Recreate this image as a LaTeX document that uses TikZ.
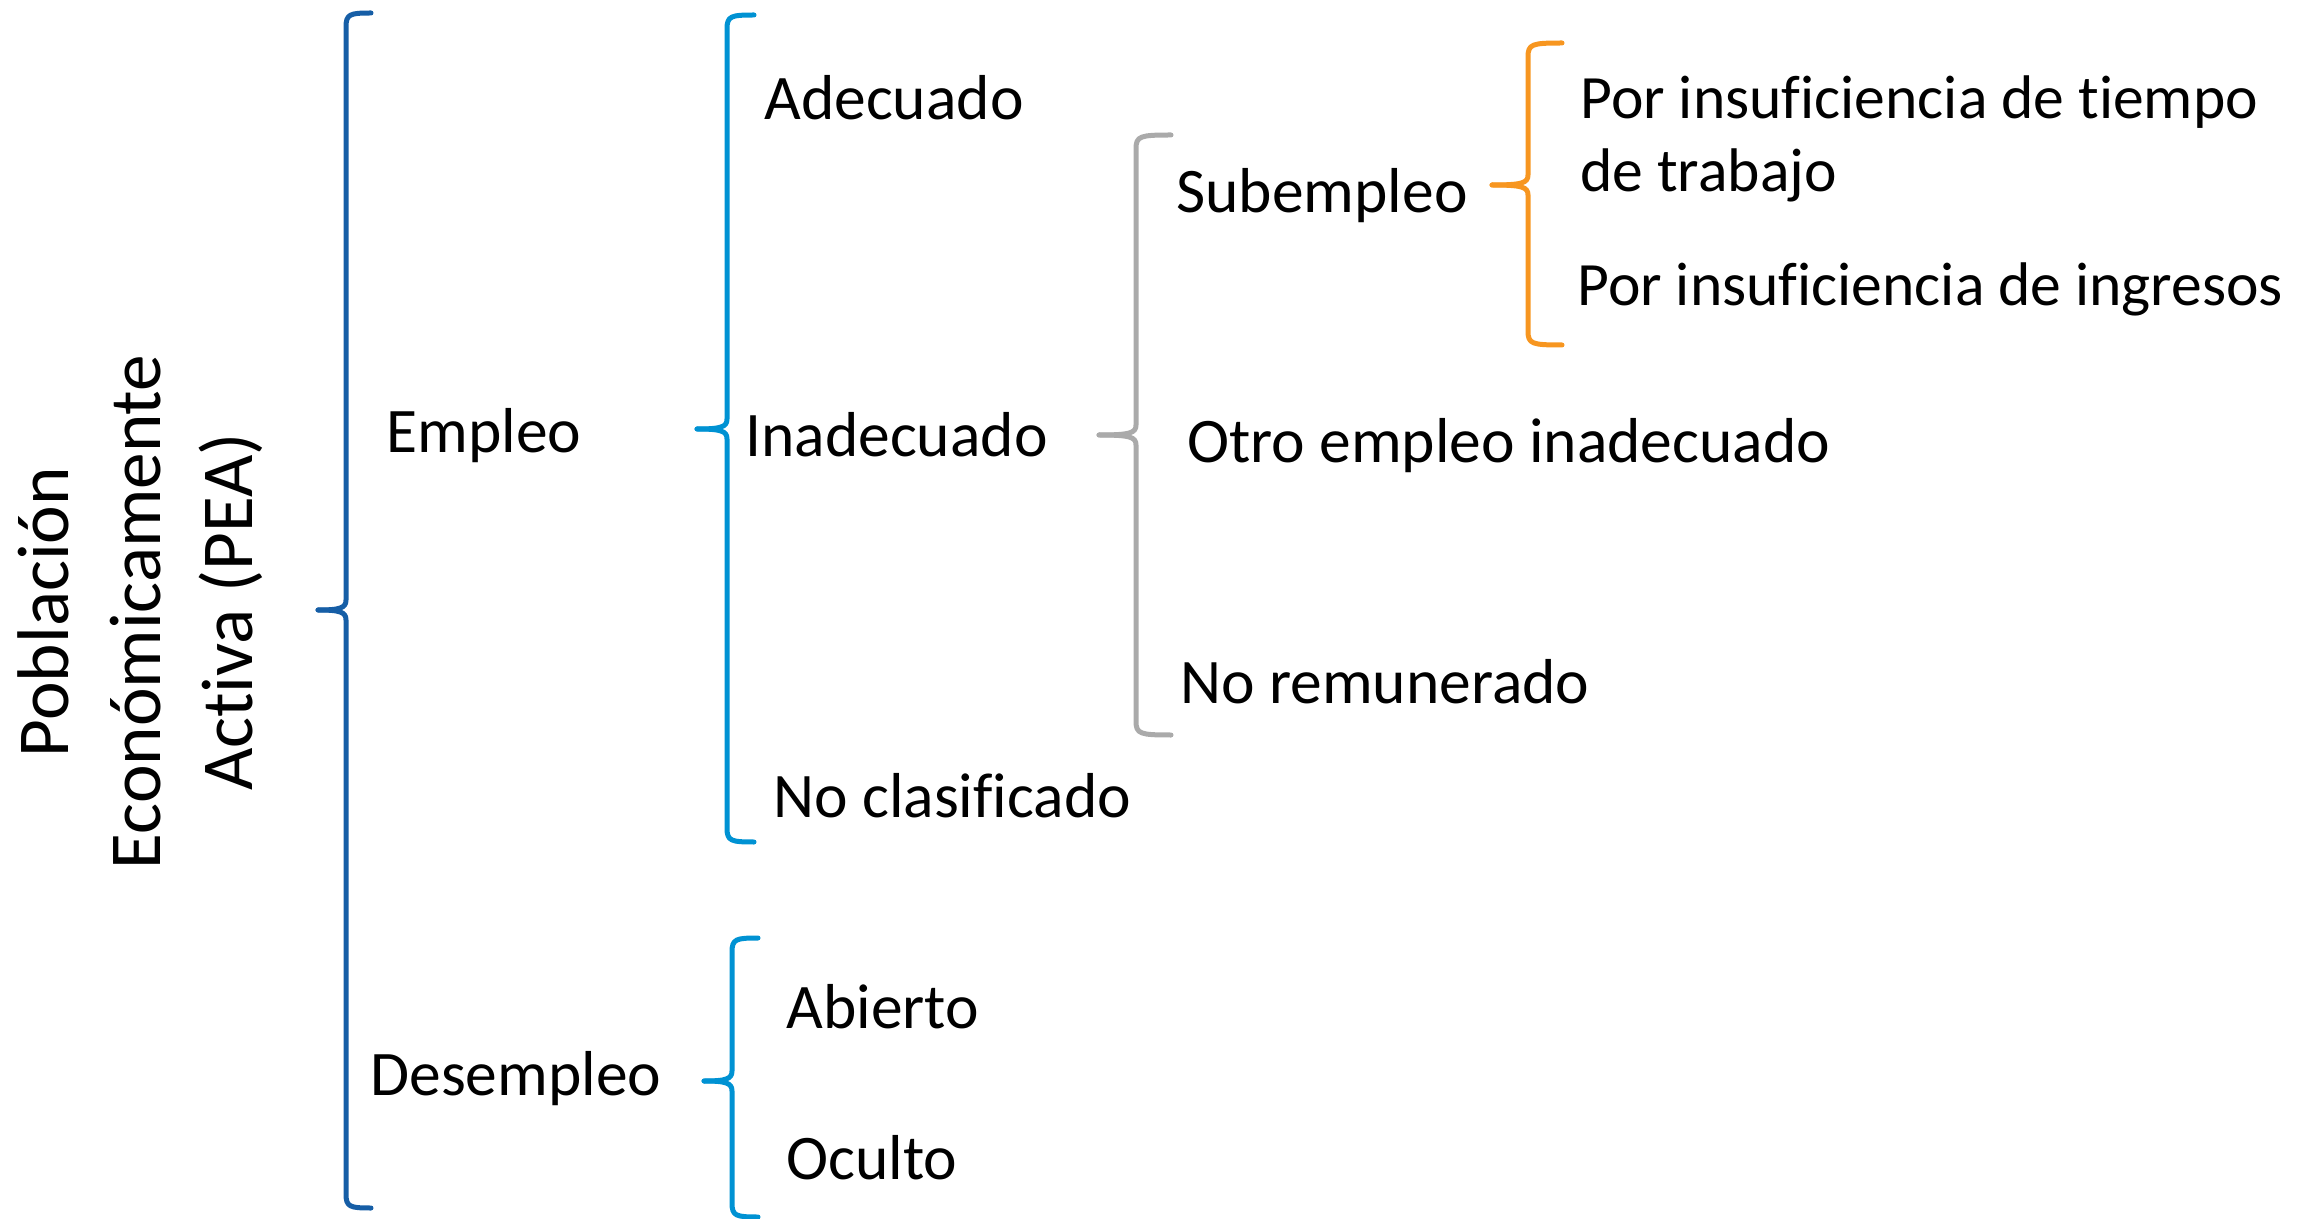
\documentclass[tikz,border=0pt]{standalone}
\usepackage{fontspec}
\setmainfont[Ligatures=NoCommon]{Carlito}
\definecolor{dblue}{RGB}{22,94,166}
\definecolor{lblue}{RGB}{0,146,211}
\definecolor{bgray}{RGB}{170,170,170}
\definecolor{borange}{RGB}{247,150,32}
\newcommand\drawbrace[7]{% color, x, top, bottom, tipx, tipy, rightx
  \draw[#1] (#7,#3) .. controls (#2+4,#3) and (#2,#3+1) .. (#2,#3+14) -- (#2,#6-10)
     .. controls (#2,#6-2) and (#2-6,#6) .. (#5,#6);
  \draw[#1] (#5,#6) .. controls (#2-6,#6) and (#2,#6+2) .. (#2,#6+10) -- (#2,#4-14)
     .. controls (#2,#4-1) and (#2+4,#4) .. (#7,#4);
}
\begin{document}
\begin{tikzpicture}[x=0.5pt,y=-0.5pt,
  lbl/.style={anchor=west,inner sep=0pt,text height=0.65em,text depth=0pt,
    font=\fontsize{31.75pt}{36.75pt}\selectfont},
  slbl/.style={lbl,font=\fontsize{30.8pt}{36.75pt}\selectfont},
  brc/.style={line width=2.5pt,line cap=round,line join=round}]
\useasboundingbox (0,0) rectangle (2304,1219);
\node[rotate=90,align=center,inner sep=0pt,font=\fontsize{36.6pt}{46pt}\selectfont] (pea) at (140,612)
  {Población\\Económicamente\\Activa (PEA)};
\node[lbl] (empleo) at (386,446) {Empleo};
\node[lbl] (desempleo) at (370,1089) {Desempleo};
\node[lbl] (adecuado) at (764,113) {Adecuado};
\node[lbl] (inadecuado) at (745,450) {Inadecuado};
\node[lbl] (noclas) at (773,811) {No clasificado};
\node[lbl] (abierto) at (786,1022) {Abierto};
\node[lbl] (oculto) at (786,1173) {Oculto};
\node[lbl] (subempleo) at (1176,206) {Subempleo};
\node[lbl] (otro) at (1187,456) {Otro empleo inadecuado};
\node[lbl] (norem) at (1180,697) {No remunerado};
\node[slbl] (tiempo1) at (1580,112) {Por insuficiencia de tiempo};
\node[slbl] (tiempo2) at (1580,185) {de trabajo};
\node[slbl] (ingresos) at (1577,299) {Por insuficiencia de ingresos};
\drawbrace{brc,dblue}{346}{13}{1208}{318}{610}{371}
\drawbrace{brc,lblue}{727}{15}{842}{697}{429}{754}
\drawbrace{brc,lblue}{732}{938}{1217}{704}{1081}{758}
\drawbrace{brc,bgray}{1136}{135}{735}{1099}{435}{1171}
\drawbrace{brc,borange}{1528}{43}{345}{1492}{185}{1562}
\end{tikzpicture}
\end{document}
